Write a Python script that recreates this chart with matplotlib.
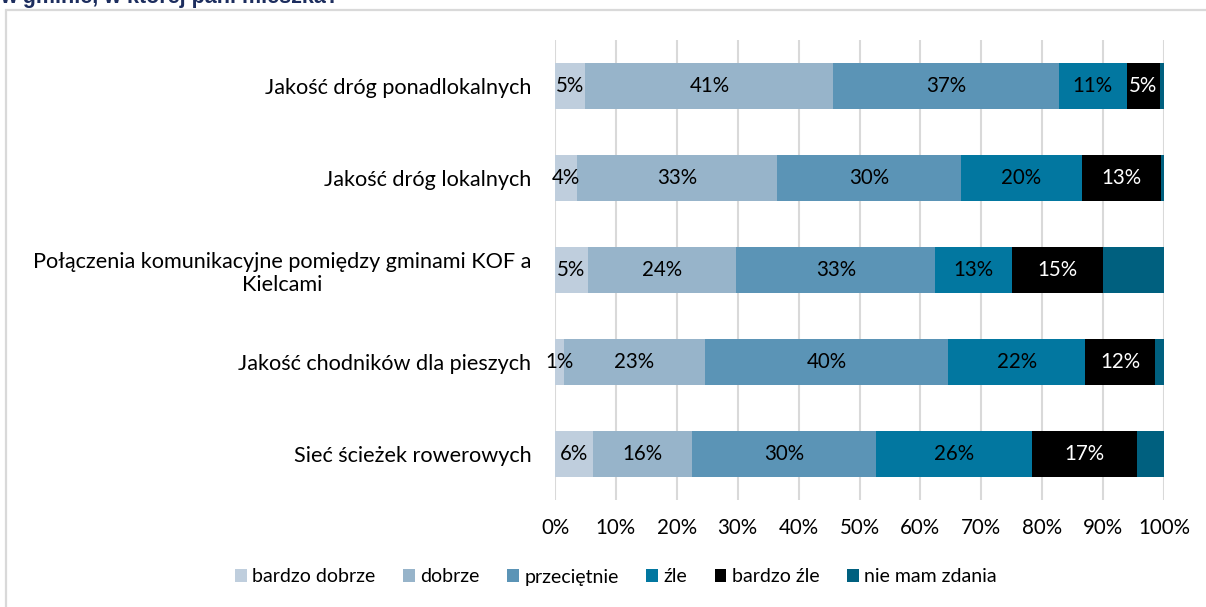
import matplotlib
matplotlib.use("Agg")
import matplotlib.pyplot as plt
from matplotlib.patches import Patch, Rectangle

plt.rcParams['font.family'] = ['Lato', 'DejaVu Sans']

categories = [
    "Jakość dróg ponadlokalnych",
    "Jakość dróg lokalnych",
    "Połączenia komunikacyjne pomiędzy gminami KOF a\nKielcami",
    "Jakość chodników dla pieszych",
    "Sieć ścieżek rowerowych",
]
series_names = ["bardzo dobrze", "dobrze", "przeciętnie", "źle", "bardzo źle", "nie mam zdania"]
bardzo_dobrze = [5.0, 3.6, 5.4, 1.4, 6.3]
dobrze = [40.7, 32.9, 24.4, 23.3, 16.2]
przecietnie = [37.0, 30.1, 32.6, 39.9, 30.2]
zle = [11.2, 19.9, 12.7, 22.4, 25.7]
bardzo_zle = [5.4, 13.0, 14.9, 11.6, 17.1]
nie_mam_zdania = [0.7, 0.5, 10.0, 1.4, 4.5]
tick_labels = ["0%", "10%", "20%", "30%", "40%", "50%", "60%", "70%", "80%", "90%", "100%"]
title_text = "w gminie, w której pani mieszka?"

series = [bardzo_dobrze, dobrze, przecietnie, zle, bardzo_zle, nie_mam_zdania]
colors = ["#BFCEDD", "#97B4CA", "#5B94B6", "#0277A0", "#000000", "#00607F"]
text_colors = ["black", "black", "black", "black", "white", None]

fig = plt.figure(figsize=(12.06, 6.07), dpi=100)
# outer frame
fig.patches.append(Rectangle((6/1206, -0.05), 1.2, 1 - 10/607 + 0.05, transform=fig.transFigure,
                             fill=False, edgecolor="#D9D9D9", linewidth=1.6))
fig.text(0.0, 1.0 + 3/607, title_text, fontsize=15.5, fontweight='bold', color="#1C2D5E",
         ha='left', va='center', family=['Liberation Sans', 'DejaVu Sans'])

ax = fig.add_axes([555/1206, 1 - 500/607, 609/1206, 460/607])
y = list(range(len(categories)))
left = [0.0] * len(categories)
for vals, col, tcol in zip(series, colors, text_colors):
    ax.barh(y, vals, left=left, height=0.49, color=col, zorder=3)
    if tcol is not None:
        for i, v in enumerate(vals):
            ax.text(left[i] + v / 2, y[i], f"{round(v)}%", ha='center', va='center',
                    color=tcol, fontsize=14.8, zorder=4)
    left = [l + v for l, v in zip(left, vals)]

ax.set_xlim(0, 100)
ax.set_ylim(4.5, -0.5)
ax.set_xticks(range(0, 101, 10))
ax.set_xticklabels(tick_labels, fontsize=14.8)
ax.set_yticks(y)
ax.set_yticklabels(categories, fontsize=15.6, ha='right')
for lab in ax.get_yticklabels():
    lab.set_multialignment('center')
    lab.set_linespacing(1.2)
ax.tick_params(axis='both', length=0)
ax.tick_params(axis='y', pad=17)
ax.tick_params(axis='x', pad=13)
ax.xaxis.grid(True, color="#D9D9D9", linewidth=1.5, zorder=0)
ax.set_axisbelow(True)
for s in ax.spines.values():
    s.set_visible(False)

handles = [Patch(facecolor=c, edgecolor='none') for c in colors]
fig.legend(handles, series_names, loc='center', bbox_to_anchor=(616/1206, 1 - 577/607),
           ncol=6, frameon=False, fontsize=14, handlelength=0.6, handleheight=0.6,
           handletextpad=0.3, columnspacing=1.4)

fig.savefig("out.png", dpi=100)
